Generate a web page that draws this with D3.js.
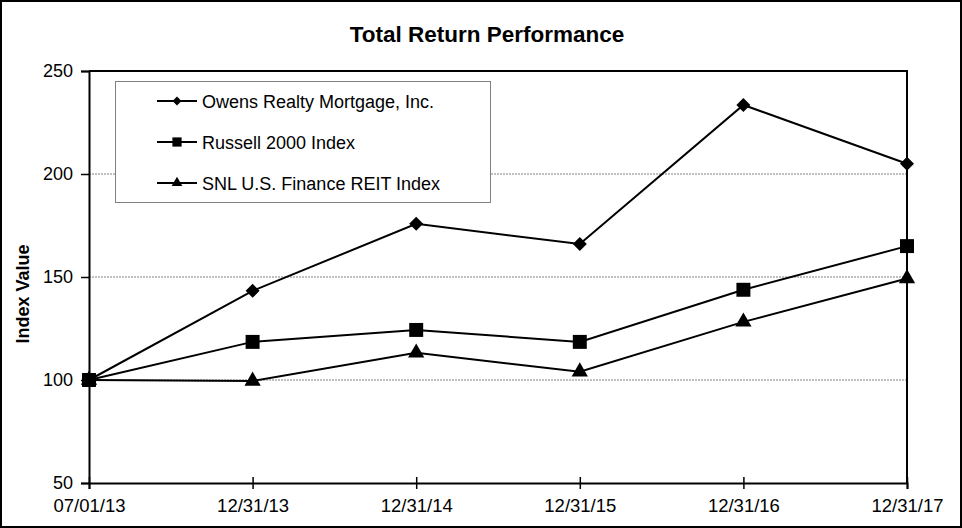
<!DOCTYPE html>
<html><head><meta charset="utf-8">
<script src="https://cdn.jsdelivr.net/npm/d3@7"></script>
<style>body{margin:0;background:#fff}svg{display:block}</style>
</head><body>
<svg id="c" width="962" height="528"></svg>
<script>
const categories = ["07/01/13","12/31/13","12/31/14","12/31/15","12/31/16","12/31/17"];
const owens   = [100, 143.3, 175.8, 166.0, 233.5, 205.0];
const russell = [100, 118.5, 124.3, 118.5, 143.8, 165.0];
const snl     = [100,  99.5, 113.2, 104.0, 128.2, 149.3];
const seriesNames = ["Owens Realty Mortgage, Inc.","Russell 2000 Index","SNL U.S. Finance REIT Index"];
const yTicks = [50,100,150,200,250];

const svg = d3.select("#c");
const font = "'Liberation Sans', Arial, sans-serif";
const L=89, R=907, T=71, B=483;
const x = d3.scalePoint().domain(categories).range([L,R]);
const y = d3.scaleLinear().domain([50,250]).range([B,T]);

svg.append("rect").attr("x",1).attr("y",1).attr("width",960).attr("height",526)
  .attr("fill","#fff").attr("stroke","#000").attr("stroke-width",2);

svg.append("text").attr("x",487).attr("y",42).attr("text-anchor","middle")
  .attr("font-family",font).attr("font-weight","bold").attr("font-size",22.5).text("Total Return Performance");

// gridlines
svg.append("g").selectAll("line").data([100,150,200]).join("line")
  .attr("x1",L).attr("x2",R).attr("y1",d=>y(d)).attr("y2",d=>y(d))
  .attr("stroke","#808080").attr("stroke-width",1).attr("stroke-dasharray","2,1");

// frame top/right
svg.append("path").attr("d",`M${L},${T}H${R}V${B}`).attr("fill","none").attr("stroke","#000").attr("stroke-width",2);

// y axis
const ya = svg.append("g").attr("transform",`translate(${L},0)`)
  .call(d3.axisLeft(y).tickValues(yTicks).tickSize(8).tickPadding(8).tickFormat(d3.format("d")));
ya.select(".domain").attr("stroke-width",2);
ya.selectAll(".tick line").attr("stroke-width",1.5);
ya.selectAll("text").attr("font-family",font).attr("font-size",18).attr("fill","#000");

// x axis
const xa = svg.append("g").attr("transform",`translate(0,${B})`)
  .call(d3.axisBottom(x).tickSize(6).tickPadding(10));
xa.select(".domain").attr("stroke-width",2);
xa.selectAll(".tick line").attr("y1",-6).attr("stroke-width",1.5);
xa.selectAll("text").attr("font-family",font).attr("font-size",18.5).attr("fill","#000");

svg.append("text").attr("transform","translate(29,294) rotate(-90)").attr("text-anchor","middle")
  .attr("font-family",font).attr("font-weight","bold").attr("font-size",18).text("Index Value");

const data = [owens, russell, snl];
const shapes = [d3.symbolDiamond, d3.symbolSquare, d3.symbolTriangle];
const line = d3.line().x((d,i)=>x(categories[i])).y(d=>y(d));

function marker(g, k, cx, cy, small){
  if(k===0){
    const h = small ? 4.5 : 7;
    g.append("path").attr("d",`M${cx},${cy-h}L${cx+h},${cy}L${cx},${cy+h}L${cx-h},${cy}Z`).attr("fill","#000");
  } else {
    const sz = k===1 ? (small ? 85 : 195) : (small ? 50 : 115);
    g.append("path").attr("transform",`translate(${cx},${cy})`)
      .attr("d",d3.symbol().type(shapes[k]).size(sz)()).attr("fill","#000");
  }
}

data.forEach((vals,k)=>{
  svg.append("path").datum(vals).attr("d",line).attr("fill","none").attr("stroke","#000").attr("stroke-width",2);
  const g = svg.append("g");
  vals.forEach((v,i)=>marker(g,k,x(categories[i]),y(v),false));
});

// legend
const lg = svg.append("g");
lg.append("rect").attr("x",115.5).attr("y",81.5).attr("width",375).attr("height",121)
  .attr("fill","#fff").attr("stroke","#808080").attr("stroke-width",1);
seriesNames.forEach((n,k)=>{
  const yy = 101 + k*41;
  lg.append("line").attr("x1",157).attr("x2",197).attr("y1",yy).attr("y2",yy).attr("stroke","#000").attr("stroke-width",2);
  marker(lg,k,177,yy,true);
  lg.append("text").attr("x",202).attr("y",yy+6.5).attr("font-family",font).attr("font-size",18).text(n);
});
</script>
</body></html>
